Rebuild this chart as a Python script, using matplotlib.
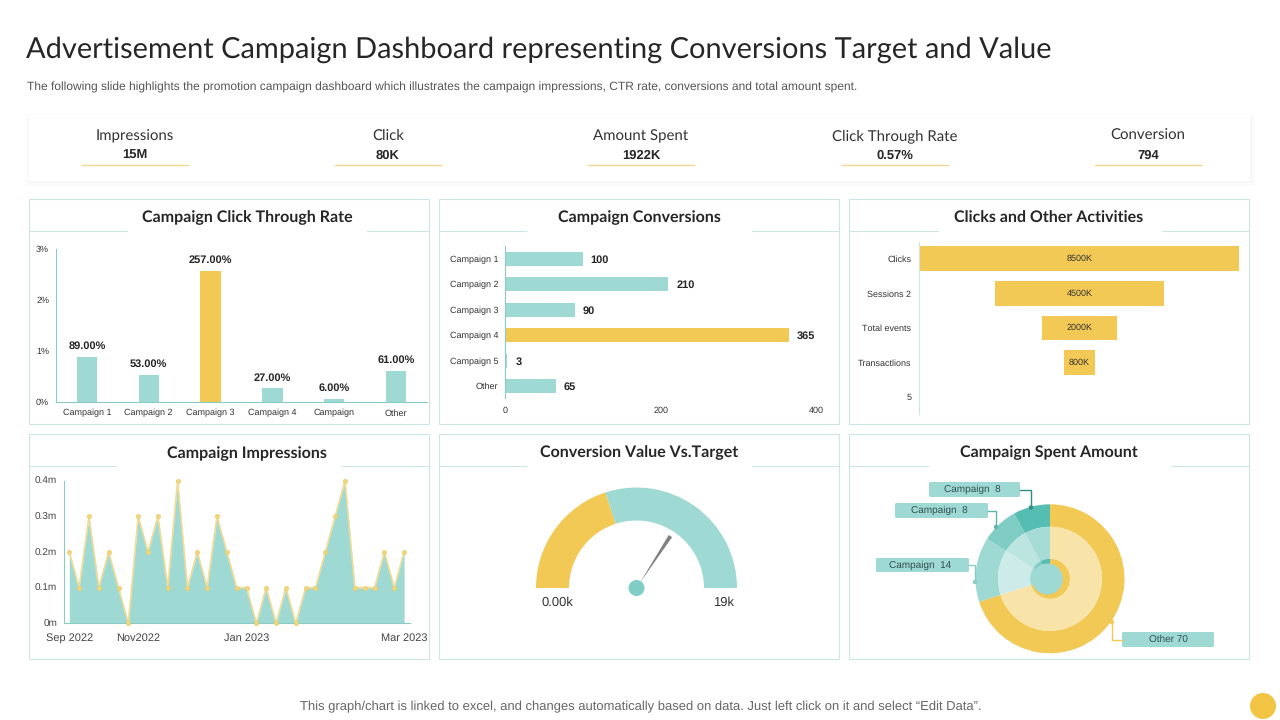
import matplotlib
matplotlib.use("Agg")
import numpy as np
import matplotlib.pyplot as plt
from matplotlib.patches import Rectangle, FancyBboxPatch, Circle, Polygon

TITLE = "Advertisement Campaign Dashboard representing Conversions Target and Value"
SUBTITLE = ("The following slide highlights the promotion campaign dashboard which illustrates "
            "the campaign impressions, CTR rate, conversions and total amount spent.")
FOOTER = "This graph/chart is linked to excel, and changes automatically based on data. Just left click on it and select \u201cEdit Data\u201d."

kpi_names = ["Impressions", "Click", "Amount Spent", "Click Through Rate", "Conversion"]
kpi_values = ["15M", "80K", "1922K", "0.57%", "794"]

ctr_labels = ["Campaign 1", "Campaign 2", "Campaign 3", "Campaign 4", "Campaign", "Other"]
ctr_values = [0.89, 0.53, 2.57, 0.27, 0.06, 0.61]
ctr_text = ["89.00%", "53.00%", "257.00%", "27.00%", "6.00%", "61.00%"]

conv_labels = ["Campaign 1", "Campaign 2", "Campaign 3", "Campaign 4", "Campaign 5", "Other"]
conv_values = [100, 210, 90, 365, 3, 65]

funnel_labels = ["Clicks", "Sessions 2", "Total events", "Transactlions", "5"]
funnel_values = [8500, 4500, 2000, 800, 0]
funnel_text = ["8500K", "4500K", "2000K", "800K", ""]

impressions = [.2, .1, .3, .1, .2, .1, 0, .3, .2, .3, .1, .4, .1, .2, .1, .3, .2, .1, .1, 0,
               .1, 0, .1, 0, .1, .1, .2, .3, .4, .1, .1, .1, .2, .1, .2]
imp_tick_idx = [0, 7, 18, 34]
imp_tick_labels = ["Sep 2022", "Nov2022", "Jan 2023", "Mar 2023"]

gauge_value = 7.6
gauge_max = 19
needle_value = 13.0

spent_labels = ["Other 70", "Campaign  14", "Campaign  8", "Campaign  8"]
spent_values = [70, 14, 8, 8]

YEL = "#F2C955"
TEAL = "#9FD9D3"
BORDER = "#CFE5E3"
AXC = "#8CCBC5"
DARK = "#262626"
HEAD = ["Lato", "DejaVu Sans"]
BODY = ["Liberation Sans", "DejaVu Sans"]
plt.rcParams["font.family"] = BODY
plt.rcParams["text.hinting"] = "no_hinting"
plt.rcParams["text.hinting_factor"] = 1

W, H = 1280, 720
fig = plt.figure(figsize=(12.8, 7.2), dpi=100, facecolor="white")


def px_axes(x0, y0, x1, y1, **kw):
    ax = fig.add_axes([x0 / W, 1 - y1 / H, (x1 - x0) / W, (y1 - y0) / H], **kw)
    ax.patch.set_alpha(0)
    return ax


bg = px_axes(0, 0, W, H, zorder=0)
bg.set_xlim(0, W)
bg.set_ylim(H, 0)
bg.axis("off")

top = px_axes(0, 0, W, H, zorder=10)
top.set_xlim(0, W)
top.set_ylim(H, 0)
top.axis("off")

bg.text(26, 49.5, TITLE, fontsize=21, family=HEAD, color=DARK, va="center", ha="left")
bg.text(27, 87.5, SUBTITLE, fontsize=8.65, color="#555555", va="center", ha="left")
bg.text(640.5, 707, FOOTER, fontsize=9.45, color="#666666", va="center", ha="center")
bg.add_patch(Circle((1263, 706), 13, color="#F2C444", lw=0))

# KPI strip with a soft shadow
for grow, col in [(4, "#FCFCFC"), (2.5, "#FAFAFA"), (1, "#F7F7F7")]:
    bg.add_patch(Rectangle((29 - grow, 117 - grow), 1222 + 2 * grow, 65 + 2 * grow, color=col, lw=0))
bg.add_patch(Rectangle((29, 115), 1221, 66, color="white", lw=0))
for cx, name, val in zip([135, 388, 641, 894.5, 1148], kpi_names, kpi_values):
    bg.text(cx, 136, name, fontsize=10.75, family=HEAD, color="#333333", ha="center", va="center")
    bg.text(cx, 156, val, fontsize=9.4, fontweight="bold", color=DARK, ha="center", va="center")
    bg.plot([cx - 53, cx + 53], [165, 165], color="#F0D98C", lw=1)

# Panels
panels = [(29, 199, "Campaign Click Through Rate", 218, 127, 367),
          (439, 199, "Campaign Conversions", 218, 526, 752),
          (849, 199, "Clicks and Other Activities", 218, 938, 1162),
          (29, 434, "Campaign Impressions", 454, 116, 342),
          (439, 434, "Conversion Value Vs.Target", 453, 526, 752),
          (849, 434, "Campaign Spent Amount", 453, 928, 1172)]
for x, y, title, ty, g0, g1 in panels:
    bg.add_patch(Rectangle((x, y), 400, 225, fill=False, ec=BORDER, lw=0.8))
    bg.plot([x, g0], [y + 32, y + 32], color=BORDER, lw=0.8)
    bg.plot([g1, x + 400], [y + 32, y + 32], color=BORDER, lw=0.8)
    bg.text(x + 218 if x == 29 else x + 200, ty, title, fontsize=11.4, fontweight="bold", family=HEAD,
            color=DARK, ha="center", va="center")


def clean(ax):
    for s in ax.spines.values():
        s.set_visible(False)
    ax.tick_params(length=0)


# Campaign Click Through Rate
ax = px_axes(56, 249, 427, 402)
clean(ax)
xs = np.arange(len(ctr_values))
ax.bar(xs, ctr_values, width=0.33,
       color=[YEL if v == max(ctr_values) else TEAL for v in ctr_values])
ax.set_xlim(-0.50, 5.50)
ax.set_ylim(0, 3)
ax.set_yticks([0, 1, 2, 3], ["0%", "1%", "2%", "3%"], fontsize=6.6, color="#333333")
ax.set_xticks(xs, ctr_labels, fontsize=6.6, color="#333333")
ax.tick_params(axis="x", pad=5)
ax.tick_params(axis="y", pad=5)
ax.spines["left"].set_visible(True)
ax.spines["bottom"].set_visible(True)
ax.spines["left"].set_color(AXC)
ax.spines["bottom"].set_color(AXC)
for x, v, t in zip(xs, ctr_values, ctr_text):
    ax.annotate(t, (x, v), xytext=(0, 4), textcoords="offset points", ha="center", va="bottom",
                fontsize=7.8, fontweight="bold", color=DARK)

# Campaign Conversions
ax = px_axes(505, 246, 824, 398)
clean(ax)
ys = np.arange(len(conv_values))
ax.barh(ys, conv_values, height=0.55,
        color=[YEL if v == max(conv_values) else TEAL for v in conv_values])
ax.set_xlim(0, 410)
ax.set_ylim(5.47, -0.50)
ax.set_yticks(ys, conv_labels, fontsize=6.6, color="#333333")
ax.set_xticks([0, 200, 400], ["0", "200", "400"], fontsize=6.6, color="#333333")
ax.tick_params(axis="x", pad=6)
ax.tick_params(axis="y", pad=5)
ax.spines["left"].set_visible(True)
ax.spines["left"].set_color(AXC)
for y, v in zip(ys, conv_values):
    ax.annotate(str(v), (v, y), xytext=(8, -1), textcoords="offset pixels", ha="left", va="center",
                fontsize=7.8, fontweight="bold", color=DARK)

# Clicks and Other Activities (funnel)
ax = px_axes(919, 242, 1240, 414)
clean(ax)
ys = np.arange(len(funnel_values))
vals = np.array(funnel_values, dtype=float)
ax.barh(ys, vals, left=-vals / 2, height=0.72, color=YEL)
ax.set_xlim(-4265, 4265)
ax.set_ylim(4.49, -0.49)
ax.set_xticks([])
ax.set_yticks(ys, funnel_labels, fontsize=6.6, color="#333333")
ax.tick_params(axis="y", pad=5.5)
ax.spines["left"].set_visible(True)
ax.spines["left"].set_color(BORDER)
for y, t in zip(ys, funnel_text):
    ax.text(0, y, t, ha="center", va="center", fontsize=6.6, color="#333333")

# Campaign Impressions
ax = px_axes(64, 480.7, 410, 623.3)
clean(ax)
xs = np.arange(len(impressions))
ax.fill_between(xs, impressions, 0, color=TEAL, lw=0, clip_on=False)
ax.plot(xs, impressions, color="#F0DC96", lw=1.2, marker="o", ms=3.0, mfc="#EFD67F", mec="#EBCB66",
        mew=0.5, clip_on=False, zorder=4)
ax.set_xlim(-0.535, 34.6)
ax.set_ylim(0, 0.4)
ax.set_yticks([0, .1, .2, .3, .4], ["0m", "0.1m", "0.2m", "0.3m", "0.4m"], fontsize=7, color="#444444")
ax.set_xticks(imp_tick_idx, imp_tick_labels, fontsize=8, color="#444444")
ax.tick_params(axis="y", pad=5)
ax.tick_params(axis="x", pad=7)
ax.spines["left"].set_visible(True)
ax.spines["bottom"].set_visible(True)
ax.spines["left"].set_color(AXC)
ax.spines["bottom"].set_color(AXC)

# Conversion Value Vs.Target (gauge): half pie, the lower half left unpainted
R = 100.5
gx, gy = 636.5, 588
ax = px_axes(gx - R, gy - R, gx + R, gy + R)
ax.pie([gauge_value, gauge_max - gauge_value, gauge_max], colors=[YEL, TEAL, "none"], startangle=180,
       counterclock=False, radius=1, center=(0, 0), wedgeprops=dict(width=33 / R, lw=0))
ax.set_xlim(-1, 1)
ax.set_ylim(-1, 1)
ang = np.pi * (1 - needle_value / gauge_max)
ux, uy = np.cos(ang), -np.sin(ang)
tip = (gx + 62 * ux, gy + 62 * uy)
base = (gx + 6 * ux, gy + 6 * uy)
top.add_patch(Polygon([(base[0], base[1]), (tip[0] - 2 * uy, tip[1] + 2 * ux), (tip[0] + 2 * uy, tip[1] - 2 * ux)],
                      color="#808080", lw=0))
top.add_patch(Circle((gx, gy), 8, color="#7FCDC5", lw=0))
top.text(557, 603, "0.00k", fontsize=9.3, color="#333333", ha="center", va="center")
top.text(723, 603, "19k", fontsize=9.3, color="#333333", ha="center", va="center")

# Campaign Spent Amount (three concentric rings)
R = 74.5
cx, cy = 1050, 578.8
ax = px_axes(cx - R, cy - R, cx + R, cy + R)
outer_c = [YEL, TEAL, "#7FCDC5", "#55BDB2"]
mid_c = ["#F8E3A8", "#CDEBE8", "#BCE5E0", "#A5DCD7"]
inner_c = [YEL, "#9FD9D3", "#7FCDC5", "#55BDB2"]
for r, w, cols in [(1, 22.5 / R, outer_c), (52 / R, 32 / R, mid_c), (20 / R, 20 / R, inner_c)]:
    ax.pie(spent_values, colors=cols, startangle=90, counterclock=False, radius=r, wedgeprops=dict(width=w, lw=0))
ax.set_xlim(-1, 1)
ax.set_ylim(-1, 1)
top.add_patch(Circle((1047.3, 579), 15.5, color=TEAL, lw=0))

label_boxes = [(1122, 632, 92, 15, YEL), (876, 558, 93, 14, "#8CCBC5"),
               (895, 503, 93, 15, "#5FB5AC"), (929, 482, 91, 15, "#2F8F86")]
for (bx, by, bw, bh, lc), t, d in zip(label_boxes, spent_labels, [(1112, 622), (975, 582), (996, 527), (1031, 507.5)]):
    top.add_patch(FancyBboxPatch((bx, by), bw, bh, boxstyle="round,pad=0,rounding_size=1.5", fc=TEAL, ec="none"))
    top.text(bx + bw / 2 - (2 if t.startswith("Campaign") else 0), by + bh / 2, t, fontsize=7.5, color="#33504E", ha="center", va="center")
    ey = by + bh / 2
    if bx > cx:
        top.plot([d[0], d[0], bx], [d[1], ey, ey], color=lc, lw=1)
    else:
        top.plot([bx + bw, d[0], d[0]], [ey, ey, d[1]], color=lc, lw=1)
    top.add_patch(Circle(d, 2.2, color=lc, lw=0))

fig.savefig("out.png", dpi=100)
